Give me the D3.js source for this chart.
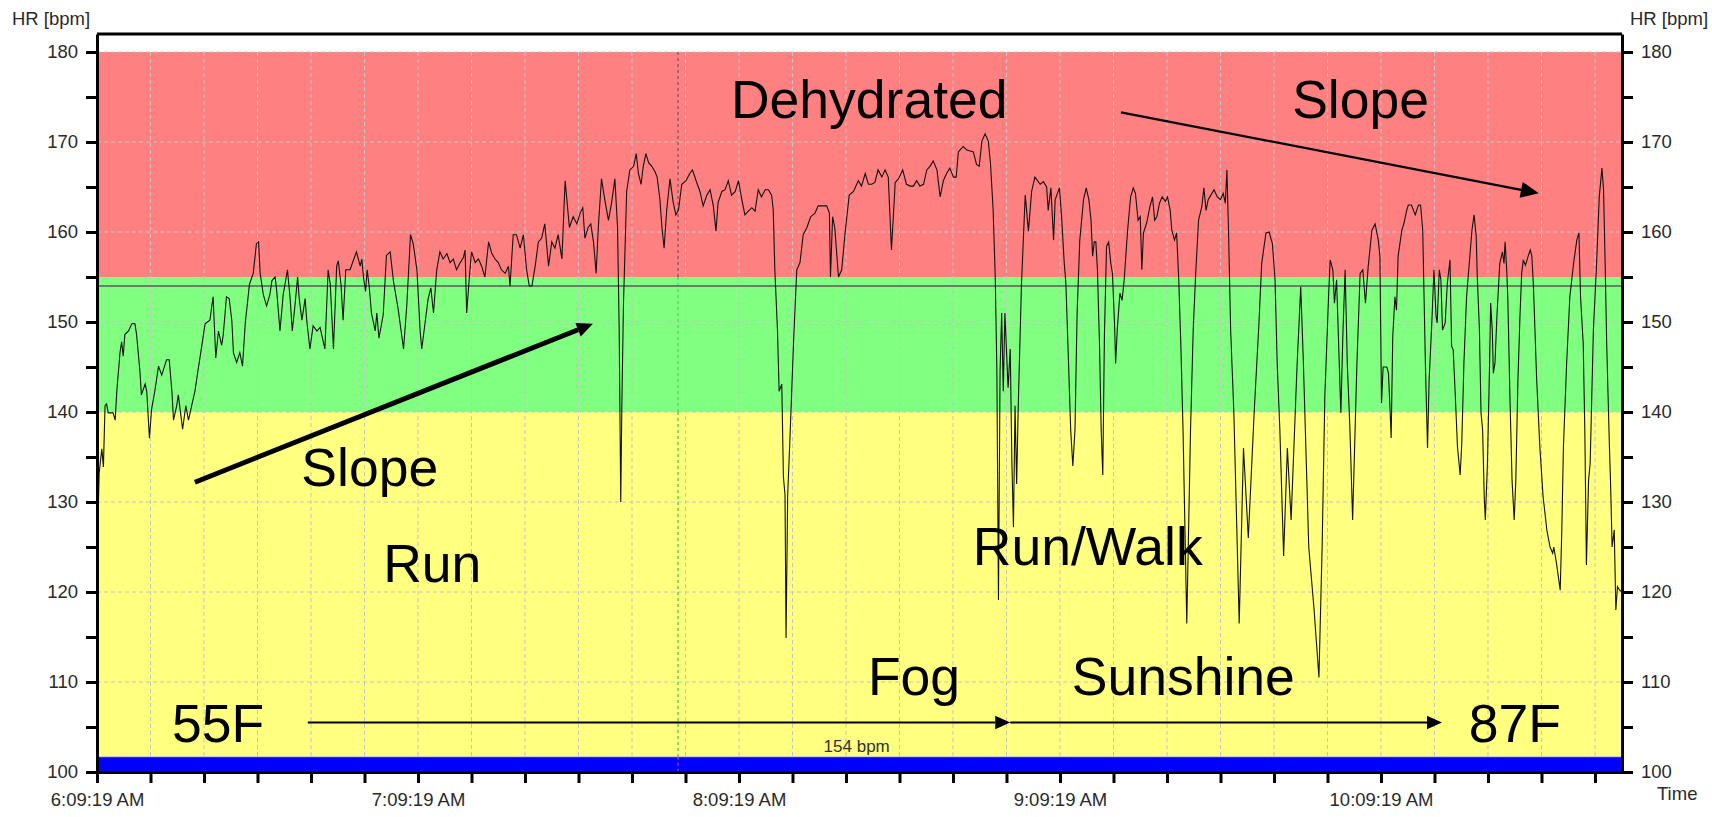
<!DOCTYPE html>
<html>
<head>
<meta charset="utf-8">
<script src="https://cdn.jsdelivr.net/npm/d3@7"></script>
<style>
body{margin:0;background:#fff;}
text{font-family:Arial,"Liberation Sans",sans-serif;}
</style>
</head>
<body>
<script>
// recording start and length (minutes)
const startTime = new Date(2008, 5, 1, 6, 9, 19);
const endMinute = 285.05;

// heart-rate zones (bpm)
const zones = [
  {from: 100, to: 140, color: "#ffff80"},
  {from: 140, to: 155, color: "#80ff80"},
  {from: 155, to: 180, color: "#ff8080"}
];
const lapBand = [100, 101.7];
const limitHr = 154;
const cursorMinute = 108.6;

const yTicks = d3.range(100, 181, 5);
const xTickMinutes = d3.range(0, 281, 10);

// [minutes since start, bpm]
const hrTrace = [
[0,123.6],[0.4,133.2],[0.9,135.9],[1.2,133.9],[1.5,140.7],[1.8,140.9],[2.1,139.9],[3.0,139.9],[3.4,139.1],[3.7,142.3],
[4.3,146.6],[4.6,147.8],[4.9,146.2],[5.2,148.6],[5.9,149.0],[6.5,149.8],[7.1,149.8],[7.4,148.6],[8.0,144.7],[8.3,141.9],
[9.0,143.1],[9.3,142.3],[9.8,137.1],[10.2,140.3],[10.8,142.3],[11.5,145.1],[12.1,144.1],[13.0,145.8],[13.5,145.8],[14.0,142.3],
[14.3,139.1],[14.9,140.7],[15.2,141.9],[16.0,138.1],[16.6,140.7],[17.1,139.1],[17.7,140.7],[18.3,142.3],[18.9,144.7],[19.6,147.4],
[20.2,149.8],[21.1,150.2],[21.7,152.8],[22.2,146.0],[22.7,149.0],[23.3,147.4],[23.6,148.6],[24.2,152.8],[24.7,152.6],[25.2,150.2],
[25.5,146.6],[26.1,145.5],[26.7,146.6],[27.2,145.1],[27.7,149.8],[28.5,154.2],[29.2,155.4],[29.8,158.7],[30.2,158.9],[30.5,155.4],
[31.1,153.0],[31.7,151.8],[32.3,153.0],[32.7,154.6],[33.3,155.0],[33.6,153.4],[34.2,149.0],[34.8,153.0],[35.6,155.8],[36.1,152.6],
[36.5,149.0],[37.0,151.8],[37.5,155.0],[37.8,152.6],[38.3,150.2],[38.9,152.6],[39.2,150.2],[39.8,147.0],[40.4,149.6],[41.1,149.0],
[41.7,149.4],[42.3,147.8],[42.6,147.0],[43.2,155.8],[43.6,154.2],[44.2,147.0],[44.8,156.2],[45.1,156.8],[45.6,154.2],[46.0,150.2],
[46.5,155.8],[47.3,155.8],[47.9,156.8],[48.5,157.8],[49.2,156.2],[49.5,157.0],[49.8,155.0],[50.2,153.4],[50.5,155.8],[50.9,153.8],
[51.3,151.0],[52.0,149.0],[52.3,151.0],[52.7,148.2],[53.5,150.8],[54.1,157.4],[54.8,157.8],[55.4,154.6],[56.3,151.4],[57.3,147.0],
[57.9,151.8],[58.6,159.7],[59.1,158.7],[59.8,155.8],[60.4,149.0],[60.7,147.0],[61.3,149.8],[61.9,152.6],[62.4,153.8],[62.9,151.0],
[63.5,155.8],[64.1,157.8],[64.7,157.0],[65.4,157.6],[66.0,156.6],[66.6,157.0],[67.2,155.8],[67.9,156.6],[68.5,157.2],[68.8,158.0],
[69.1,151.0],[69.6,155.0],[70.0,157.8],[70.7,156.6],[71.3,157.0],[71.9,156.2],[72.5,155.0],[73.2,158.9],[73.8,157.6],[74.4,157.0],
[75.0,156.6],[75.6,155.8],[76.3,155.4],[76.9,156.2],[77.2,154.0],[77.8,159.7],[78.4,159.7],[79.1,158.2],[79.7,159.7],[80.3,155.8],
[80.8,154.0],[81.3,154.0],[81.9,156.2],[82.5,158.9],[83.1,159.3],[83.7,160.9],[84.4,156.2],[85.0,158.9],[85.6,158.2],[86.2,159.7],
[86.9,157.0],[87.5,165.7],[88.3,160.5],[89.0,161.7],[89.7,160.9],[90.3,162.1],[90.8,162.7],[91.2,159.3],[91.8,160.5],[92.3,160.9],
[92.8,158.9],[93.3,155.4],[93.7,160.5],[94.3,165.9],[95.0,163.3],[95.6,161.3],[96.2,163.3],[96.8,165.9],[97.3,160.5],[97.6,149.4],
[97.9,130.0],[98.1,140.7],[98.4,151.8],[99.0,164.5],[99.6,166.9],[100.3,167.3],[100.8,168.7],[101.2,166.5],[101.7,165.3],[102.1,167.3],
[102.6,168.7],[103.1,167.7],[103.7,167.3],[104.3,166.7],[104.7,166.1],[105.2,163.7],[105.6,160.5],[106.0,158.2],[106.5,162.5],[107.1,165.9],
[107.7,163.3],[108.2,161.9],[108.7,162.5],[109.3,165.3],[110.1,165.7],[110.8,166.5],[111.3,166.9],[112.1,165.5],[112.7,164.5],[113.3,162.9],
[114.0,164.1],[114.6,164.7],[115.2,162.9],[115.7,160.1],[116.1,163.3],[116.8,164.5],[117.4,164.7],[118.0,165.7],[118.6,164.1],[119.3,164.5],
[119.9,165.7],[120.5,163.7],[121.1,161.9],[121.7,162.3],[122.4,162.7],[123.0,162.3],[123.6,164.7],[124.2,163.9],[124.9,164.7],[125.5,164.7],
[126.1,164.1],[126.4,162.5],[126.7,155.8],[127.2,149.0],[127.5,142.3],[128.0,143.1],[128.3,132.8],[128.6,130.8],[128.8,114.9],[129.1,130.8],
[129.5,136.7],[130.2,147.8],[130.8,155.8],[131.4,156.6],[132.0,159.7],[132.7,160.5],[133.4,161.7],[134.2,162.1],[134.8,162.9],[136.4,162.9],
[136.9,162.1],[137.1,155.0],[137.5,161.7],[137.9,160.5],[138.6,155.0],[139.2,155.8],[139.8,159.7],[140.6,164.1],[141.4,164.5],[142.3,165.7],
[142.9,165.1],[143.6,166.5],[144.2,165.3],[144.8,165.3],[145.4,165.5],[146.0,166.9],[146.7,166.1],[147.3,166.9],[147.9,166.1],[148.5,158.0],
[149.2,165.5],[149.8,165.9],[150.6,166.9],[151.3,165.3],[152.0,165.1],[152.6,165.1],[153.2,165.7],[153.8,165.1],[154.5,165.3],[155.1,166.9],
[155.7,167.3],[156.3,167.9],[157.0,166.9],[157.6,163.9],[158.2,165.7],[158.8,166.5],[159.4,167.1],[160.1,166.1],[160.6,166.1],[161.0,168.9],
[161.9,169.5],[162.6,169.1],[163.8,168.9],[164.4,167.5],[164.9,167.3],[165.4,170.1],[166.0,170.9],[166.6,170.1],[167.0,167.7],[167.5,162.5],
[167.9,155.0],[168.2,144.7],[168.5,119.1],[168.8,144.7],[169.1,151.0],[169.4,142.3],[169.7,151.0],[170.3,142.7],[170.7,147.0],[171.0,134.7],
[171.3,127.2],[171.6,140.7],[171.9,132.0],[172.2,140.7],[172.8,154.2],[173.5,164.1],[174.1,160.1],[174.7,164.5],[175.3,166.1],[176.3,165.3],
[176.9,165.6],[177.5,165.0],[177.8,162.4],[178.3,164.9],[178.8,159.1],[179.1,163.6],[179.9,164.9],[180.3,161.7],[180.8,156.5],[181.1,154.3],
[181.6,145.4],[182.0,138.0],[182.4,134.0],[182.8,138.0],[183.2,151.0],[183.7,159.1],[184.4,163.6],[184.9,164.9],[185.4,163.6],[185.8,161.3],
[186.1,157.3],[186.4,158.9],[186.7,158.9],[187.0,155.8],[187.4,147.2],[187.7,138.0],[188.0,133.0],[188.3,148.4],[188.7,158.4],[189.1,158.9],
[189.5,156.5],[189.8,155.4],[190.2,149.8],[190.4,145.4],[190.7,149.1],[191.2,153.2],[191.6,152.4],[192.0,154.7],[192.6,159.9],[193.2,163.9],
[193.7,164.9],[194.1,164.3],[194.6,161.3],[195.0,161.7],[195.3,155.8],[195.6,159.9],[196.2,161.0],[196.8,162.8],[197.3,163.9],[197.7,161.3],
[198.1,161.7],[198.6,163.2],[199.1,163.9],[199.7,163.4],[200.1,163.9],[200.6,162.4],[200.9,160.2],[201.4,159.1],[201.8,159.9],[202.2,154.7],
[202.6,147.2],[203.0,138.0],[203.7,116.5],[204.4,138.0],[204.9,149.1],[205.4,155.8],[205.9,161.3],[206.5,162.8],[206.9,164.9],[207.3,162.4],
[207.7,163.6],[208.2,164.1],[208.8,164.7],[209.4,163.9],[210.0,163.6],[210.5,164.3],[210.9,163.2],[211.2,166.9],[211.5,160.2],[211.9,149.1],
[212.5,139.9],[213.5,116.5],[214.3,136.0],[215.2,126.0],[216.3,140.0],[217.2,150.0],[217.7,156.5],[218.5,159.9],[219.1,160.0],[219.7,158.7],
[220.2,154.7],[220.6,145.4],[221.1,138.0],[221.8,124.0],[222.5,136.0],[223.2,128.0],[224.3,145.0],[225.0,153.9],[225.5,145.4],[226.5,125.0],
[227.5,118.0],[228.4,110.5],[229.0,125.0],[229.5,141.7],[230.2,152.8],[230.5,156.9],[231.0,155.8],[231.3,152.1],[231.7,154.7],[232.2,145.4],
[232.5,139.9],[232.9,149.1],[233.3,155.8],[233.7,145.4],[234.2,138.0],[234.7,128.0],[235.5,145.4],[236.1,155.4],[236.6,155.8],[237.1,152.1],
[237.6,156.1],[238.3,160.2],[238.9,160.9],[239.5,159.1],[239.8,157.3],[240.1,141.0],[240.4,145.0],[241.1,145.0],[241.4,144.3],[241.7,140.2],
[241.9,137.1],[242.2,148.4],[242.6,152.8],[242.9,151.3],[243.2,157.3],[243.9,160.2],[244.3,161.0],[244.8,162.4],[245.1,163.0],[245.7,163.0],
[246.4,161.9],[247.0,163.0],[247.4,163.0],[247.8,160.2],[248.0,154.3],[248.3,145.4],[248.7,136.0],[249.0,143.6],[249.5,149.9],[249.9,155.8],
[250.3,150.6],[250.5,149.9],[250.9,155.8],[251.2,154.7],[251.5,149.1],[252.0,149.9],[252.4,154.3],[252.9,156.9],[253.2,147.3],[253.5,146.9],
[253.9,141.7],[254.3,136.1],[254.8,133.0],[255.1,136.5],[255.5,145.4],[256.0,152.8],[256.5,156.5],[257.0,160.2],[257.4,161.9],[257.8,159.5],
[258.0,155.0],[258.4,149.1],[258.7,139.9],[259.0,138.0],[259.3,130.6],[259.5,128.0],[259.9,134.3],[260.3,145.4],[260.5,152.1],[260.8,149.1],
[261.0,144.3],[261.3,145.4],[261.7,151.0],[262.2,156.5],[262.7,157.8],[263.0,156.5],[263.2,158.9],[263.5,155.8],[263.7,152.8],[264.1,141.7],
[264.5,132.4],[264.9,128.0],[265.2,132.4],[265.6,143.6],[266.0,151.0],[266.3,155.4],[266.6,156.9],[267.0,156.3],[267.5,157.3],[267.9,158.0],
[268.2,157.3],[268.5,153.9],[269.1,143.6],[269.7,136.1],[270.3,130.6],[271.0,126.9],[271.6,125.0],[272.1,124.3],[272.3,125.0],[272.8,123.2],
[273.5,120.2],[273.8,126.9],[274.1,136.1],[274.7,145.4],[275.3,152.8],[276.0,156.5],[276.6,159.1],[277.0,159.9],[277.3,152.8],[277.8,147.6],
[278.1,138.0],[278.4,123.0],[278.8,132.4],[279.1,134.3],[279.4,141.7],[279.7,149.1],[280.3,156.5],[280.8,163.9],[281.3,167.1],[281.6,164.7],
[281.9,156.5],[282.2,147.3],[282.7,136.1],[282.9,132.4],[283.2,125.0],[283.6,126.9],[283.9,118.0],[284.2,120.6],[284.6,120.2],[285.05,120.0]
];

// annotations in chart coordinates [minute, bpm]
const notes = [
  {text: "Dehydrated", t: 118.5, hr: 172.7},
  {text: "Slope", t: 223.4, hr: 172.7},
  {text: "Slope", t: 38.2, hr: 131.8},
  {text: "Run", t: 53.5, hr: 121.1},
  {text: "Run/Walk", t: 163.7, hr: 123.0},
  {text: "Fog", t: 144.1, hr: 108.6},
  {text: "Sunshine", t: 182.2, hr: 108.6},
  {text: "55F", t: 14.0, hr: 103.3},
  {text: "87F", t: 256.4, hr: 103.3}
];
const arrows = [
  {from: [18.3, 132.2], to: [92.7, 149.8], width: 5, head: 16},
  {from: [191.4, 173.3], to: [269.5, 164.3], width: 2.2, head: 18},
  {from: [39.4, 105.5], to: [170.7, 105.5], width: 2, head: 15},
  {from: [170.7, 105.5], to: [251.4, 105.5], width: 2, head: 15}
];

const W = 1712, H = 817;
const pL = 97, pR = 1622, pT = 34, pB = 772;
const smallFont = 18.5, bigFont = 53.5;
const at = m => new Date(+startTime + m * 60000);

const svg = d3.select("body").append("svg").attr("width", W).attr("height", H);

const x = d3.scaleTime().domain([startTime, at(endMinute)]).range([pL, pR]);
const y = d3.scaleLinear().domain([100, 182]).range([pB, pT]);

// zones
svg.append("g").selectAll("rect").data(zones).join("rect")
  .attr("x", pL).attr("width", pR - pL)
  .attr("y", d => y(d.to)).attr("height", d => y(d.from) - y(d.to))
  .attr("fill", d => d.color);

// grid
const grid = svg.append("g").attr("stroke", "#c4c4c4").attr("stroke-dasharray", "4,3").attr("stroke-width", 1);
grid.selectAll(".v").data(xTickMinutes.slice(1)).join("line")
  .attr("x1", d => x(at(d))).attr("x2", d => x(at(d)))
  .attr("y1", y(180)).attr("y2", y(lapBand[1]));
grid.selectAll(".h").data(d3.range(110, 181, 10)).join("line")
  .attr("x1", pL).attr("x2", pR)
  .attr("y1", d => y(d)).attr("y2", d => y(d));

// lap band
svg.append("rect").attr("x", pL).attr("width", pR - pL)
  .attr("y", y(lapBand[1])).attr("height", y(lapBand[0]) - y(lapBand[1]))
  .attr("fill", "#0000ff");
svg.append("line").attr("x1", pL).attr("x2", pR)
  .attr("y1", y(lapBand[1])).attr("y2", y(lapBand[1]))
  .attr("stroke", "#d0d0d0").attr("stroke-width", 1);

// cursor line (inverted colours per zone)
const cx = x(at(cursorMinute));
[[155, 180, "#6e5656"], [140, 155, "#5ccc5c"], [lapBand[1], 140, "#3cc83c"], [100, lapBand[1], "#d040d0"]].forEach(s => {
  svg.append("line").attr("x1", cx).attr("x2", cx).attr("y1", y(s[1])).attr("y2", y(s[0]))
    .attr("stroke", s[2]).attr("stroke-width", 1.2).attr("stroke-dasharray", "3,3");
});

// limit line
svg.append("line").attr("x1", pL).attr("x2", pR)
  .attr("y1", y(limitHr)).attr("y2", y(limitHr))
  .attr("stroke", "#5a5a5a").attr("stroke-width", 1.5);
svg.append("text").attr("x", x(at(142))).attr("y", y(lapBand[1]) - 5)
  .attr("text-anchor", "middle").attr("font-size", 17).attr("fill", "#333")
  .text(limitHr + " bpm");

// HR line
const line = d3.line().x(d => x(at(d[0]))).y(d => y(d[1]));
svg.append("path").attr("d", line(hrTrace))
  .attr("fill", "none").attr("stroke", "#111").attr("stroke-width", 1.1);

// axes
function styleAxis(g) {
  g.selectAll("path, line").attr("stroke", "#000").attr("stroke-width", 3);
  g.selectAll("text").attr("font-size", smallFont).attr("fill", "#2a2a2a")
    .attr("font-family", 'Arial,"Liberation Sans",sans-serif');
}
const yFmt = d => d % 10 === 0 ? d : "";
svg.append("g").attr("transform", `translate(${pL},0)`)
  .call(d3.axisLeft(y).tickValues(yTicks).tickFormat(yFmt).tickSize(11).tickSizeOuter(0).tickPadding(8))
  .call(styleAxis);
svg.append("g").attr("transform", `translate(${pR},0)`)
  .call(d3.axisRight(y).tickValues(yTicks).tickFormat(yFmt).tickSize(11).tickSizeOuter(0).tickPadding(8))
  .call(styleAxis);
const tf = d3.timeFormat("%-I:%M:%S %p");
svg.append("g").attr("transform", `translate(0,${pB})`)
  .call(d3.axisBottom(x).tickValues(xTickMinutes.map(at))
    .tickFormat((d, i) => xTickMinutes[i] % 60 === 0 ? tf(d) : "")
    .tickSize(11).tickSizeOuter(0).tickPadding(10))
  .call(styleAxis);
svg.append("line").attr("x1", pL).attr("x2", pR).attr("y1", pT).attr("y2", pT)
  .attr("stroke", "#000").attr("stroke-width", 3);

// axis titles
svg.append("text").attr("x", 12).attr("y", 25).attr("font-size", smallFont).attr("fill", "#2a2a2a").text("HR [bpm]");
svg.append("text").attr("x", 1630).attr("y", 25).attr("font-size", smallFont).attr("fill", "#2a2a2a").text("HR [bpm]");
svg.append("text").attr("x", 1657).attr("y", 800).attr("font-size", smallFont).attr("fill", "#2a2a2a").text("Time");

// annotations
svg.append("g").selectAll("text").data(notes).join("text")
  .attr("x", d => x(at(d.t))).attr("y", d => y(d.hr))
  .attr("font-size", bigFont).attr("fill", "#000")
  .text(d => d.text);

arrows.forEach(a => {
  const x1 = x(at(a.from[0])), y1 = y(a.from[1]);
  const x2 = x(at(a.to[0])), y2 = y(a.to[1]);
  const ang = Math.atan2(y2 - y1, x2 - x1);
  const bx = x2 - a.head * Math.cos(ang), by = y2 - a.head * Math.sin(ang);
  const hw = a.head * 0.45;
  svg.append("line").attr("x1", x1).attr("y1", y1).attr("x2", bx).attr("y2", by)
    .attr("stroke", "#000").attr("stroke-width", a.width);
  svg.append("polygon")
    .attr("points", [[x2, y2],
      [bx + hw * Math.sin(ang), by - hw * Math.cos(ang)],
      [bx - hw * Math.sin(ang), by + hw * Math.cos(ang)]].map(p => p.join(",")).join(" "))
    .attr("fill", "#000");
});
</script>
</body>
</html>
